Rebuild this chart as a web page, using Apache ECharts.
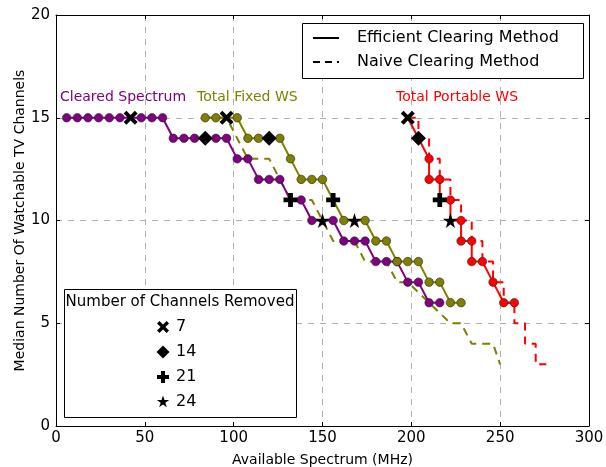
<!DOCTYPE html>
<html>
<head>
<meta charset="utf-8">
<script src="https://cdn.jsdelivr.net/npm/echarts@6.0.0/dist/echarts.min.js"></script>
<style>
  html, body { margin: 0; padding: 0; background: #fff; }
  #chart { width: 606px; height: 467px; }
</style>
</head>
<body>
<div id="chart"></div>
<script>
// Cleared Spectrum (efficient clearing)
var clearedX = [6, 12, 18, 24, 30, 36, 42, 48, 54, 60, 66, 72, 78, 84, 90, 96, 102, 108,
  114, 120, 126, 132, 138, 144, 150, 156, 162, 168, 174, 180, 186, 192, 198, 204, 210, 216];
var clearedY = [15, 15, 15, 15, 15, 15, 15, 15, 15, 15, 14, 14, 14, 14, 14, 14, 13, 13,
  12, 12, 12, 11, 11, 10, 10, 10, 9, 9, 9, 8, 8, 8, 7, 7, 6, 6];

// Total Fixed WS
var fixedX = [84, 90, 96, 102, 108, 114, 120, 126, 132, 138, 144, 150, 156, 162, 168, 174,
  180, 186, 192, 198, 204, 210, 216, 222, 228];
var fixedY = [15, 15, 15, 15, 14, 14, 14, 14, 13, 12, 12, 12, 11, 10, 10, 10,
  9, 9, 8, 8, 8, 7, 7, 6, 6];
var fixedNaiveX = [84, 90, 96, 108, 114, 120, 132, 138, 144, 150, 156, 162, 168, 174, 180, 186,
  192, 198, 210, 222, 228, 234, 240, 246, 250];
var fixedNaiveY = [15, 15, 15, 13, 13, 13, 11, 11, 11, 10, 9, 9, 9, 8, 8, 8,
  7, 7, 6, 5, 5, 4, 4, 4, 3];

// Total Portable WS
var portableX = [198, 204, 210, 210, 216, 216, 222, 222, 228, 228, 234, 234, 240, 246, 252, 258];
var portableY = [15, 14, 13, 12, 12, 11, 11, 10, 10, 9, 9, 8, 8, 7, 6, 6];
var portableNaiveX = [198, 204, 204, 210, 210, 216, 216, 222, 222, 228, 228, 234, 234, 240, 240,
  246, 246, 252, 252, 258, 258, 264, 264, 270, 270, 276];
var portableNaiveY = [15, 15, 14, 14, 13, 13, 12, 12, 11, 11, 10, 10, 9, 9, 8,
  8, 7, 7, 6, 6, 5, 5, 4, 4, 3, 3];

// channels removed markers [x, y]
var removed7 = [[42, 15], [96, 15], [198, 15]];
var removed14 = [[84, 14], [120, 14], [204, 14]];
var removed21 = [[132, 11], [156, 11], [216, 11]];
var removed24 = [[150, 10], [168, 10], [222, 10]];

var xTicks = [0, 50, 100, 150, 200, 250, 300];
var yTicks = [0, 5, 10, 15, 20];

var PURPLE = '#800080', OLIVE = '#808000', RED = '#ff0000';
var FONT = 'DejaVu Sans';

// marker outlines in a 10x10 box
var xPts = [[2, 0], [5, 3], [8, 0], [10, 2], [7, 5], [10, 8], [8, 10], [5, 7], [2, 10], [0, 8], [3, 5], [0, 2]];
var plusPts = [[3.3, 0], [6.7, 0], [6.7, 3.3], [10, 3.3], [10, 6.7], [6.7, 6.7], [6.7, 10], [3.3, 10],
  [3.3, 6.7], [0, 6.7], [0, 3.3], [3.3, 3.3]];
var diamondPts = [[5, 0], [10, 5], [5, 10], [0, 5]];
var starPts = [[5, 0], [6.12, 3.46], [9.76, 3.46], [6.81, 5.59], [7.94, 9.05], [5, 6.9], [2.06, 9.05],
  [3.19, 5.59], [0.24, 3.46], [3.88, 3.46]];

var allMarkers = removed7.concat(removed14, removed21, removed24);

function toPath(pts) {
  return 'path://M' + pts.map(function (p) { return p[0] + ',' + p[1]; }).join(' L') + ' Z';
}

function isMarked(x, y) {
  return allMarkers.some(function (m) { return m[0] === x && m[1] === y; });
}

function lineSeries(name, xs, ys, color, dashed) {
  return {
    name: name,
    type: 'line',
    data: xs.map(function (x, i) {
      var item = { value: [x, ys[i]] };
      if (isMarked(x, ys[i])) item.symbol = 'none';
      return item;
    }),
    symbol: dashed ? 'none' : 'circle',
    symbolSize: 8.5,
    z: dashed ? 2 : 3,
    lineStyle: { color: color, width: 2, type: dashed ? [8, 6] : 'solid' },
    itemStyle: { color: color, borderColor: '#222', borderWidth: 0.6 },
    emphasis: { disabled: true }
  };
}

function markerSeries(name, data, pts, size) {
  return {
    name: name,
    type: 'scatter',
    data: data,
    symbol: toPath(pts),
    symbolSize: size,
    z: 5,
    itemStyle: { color: '#000', opacity: 1 },
    emphasis: { disabled: true }
  };
}

var chart = echarts.init(document.getElementById('chart'));

var legendMarkers = [
  { pts: xPts, label: '7', size: 12 },
  { pts: diamondPts, label: '14', size: 13 },
  { pts: plusPts, label: '21', size: 12 },
  { pts: starPts, label: '24', size: 13 }
];
var graphics = [
  { type: 'text', x: 60, y: 97, style: { text: 'Cleared Spectrum', fill: PURPLE, font: '14px ' + FONT, verticalAlign: 'middle' } },
  { type: 'text', x: 197, y: 97, style: { text: 'Total Fixed WS', fill: OLIVE, font: '14px ' + FONT, verticalAlign: 'middle' } },
  { type: 'text', x: 396, y: 97, style: { text: 'Total Portable WS', fill: RED, font: '14px ' + FONT, verticalAlign: 'middle' } },
  // line style legend
  { type: 'rect', shape: { x: 302.5, y: 23.5, width: 281, height: 55 }, style: { fill: '#fff', stroke: '#000', lineWidth: 1 }, z: 10 },
  { type: 'line', shape: { x1: 313, y1: 38, x2: 339, y2: 38 }, style: { stroke: '#000', lineWidth: 2 }, z: 11 },
  { type: 'line', shape: { x1: 313, y1: 62, x2: 339, y2: 62 }, style: { stroke: '#000', lineWidth: 2, lineDash: [7, 5] }, z: 11 },
  { type: 'text', x: 357, y: 38, style: { text: 'Efficient Clearing Method', fill: '#000', font: '16px ' + FONT, verticalAlign: 'middle' }, z: 11 },
  { type: 'text', x: 357, y: 62, style: { text: 'Naive Clearing Method', fill: '#000', font: '16px ' + FONT, verticalAlign: 'middle' }, z: 11 },
  // marker legend
  { type: 'rect', shape: { x: 64.5, y: 289.5, width: 232, height: 128 }, style: { fill: '#fff', stroke: '#000', lineWidth: 1 }, z: 10 },
  { type: 'text', x: 180, y: 302, style: { text: 'Number of Channels Removed', fill: '#000', font: '15px ' + FONT, align: 'center', verticalAlign: 'middle' }, z: 11 }
];
legendMarkers.forEach(function (m, i) {
  var cy = 327 + i * 25;
  var s = m.size;
  graphics.push({
    type: 'polygon',
    shape: { points: m.pts.map(function (p) { return [163 - s / 2 + p[0] / 10 * s, cy - s / 2 + p[1] / 10 * s]; }) },
    style: { fill: '#000' },
    z: 11
  });
  graphics.push({
    type: 'text', x: 176, y: cy,
    style: { text: m.label, fill: '#000', font: '16px ' + FONT, verticalAlign: 'middle' },
    z: 11
  });
});

chart.setOption({
  animation: false,
  backgroundColor: '#fff',
  textStyle: { fontFamily: FONT },
  grid: { left: 56, right: 17, top: 15, bottom: 41, show: false, outerBoundsMode: 'none', containLabel: false },
  xAxis: [{
    type: 'value', min: 0, max: 300, interval: 50,
    name: 'Available Spectrum (MHz)', nameLocation: 'middle', nameGap: 27, nameMoveOverlap: false,
    nameTextStyle: { fontSize: 14, color: '#000', fontFamily: FONT },
    axisLine: { show: true, onZero: false, lineStyle: { color: '#000', width: 1 } },
    axisTick: { show: true, inside: true, length: 4, lineStyle: { color: '#000' } },
    axisLabel: { fontSize: 15, color: '#000', margin: 5, fontFamily: FONT,
      formatter: function (v) { return xTicks.indexOf(v) >= 0 ? String(v) : ''; } },
    splitLine: { show: true, lineStyle: { color: '#b0b0b0', type: [6, 6], width: 1 } }
  }, {
    type: 'value', position: 'top', min: 0, max: 300, interval: 50,
    axisLine: { show: true, onZero: false, lineStyle: { color: '#000', width: 1 } },
    axisTick: { show: true, inside: true, length: 4, lineStyle: { color: '#000' } },
    axisLabel: { show: false }, splitLine: { show: false }
  }],
  yAxis: [{
    type: 'value', min: 0, max: 20, interval: 5,
    name: 'Median Number Of Watchable TV Channels', nameLocation: 'middle', nameGap: 29, nameMoveOverlap: false,
    nameTextStyle: { fontSize: 14, color: '#000', fontFamily: FONT },
    axisLine: { show: true, onZero: false, lineStyle: { color: '#000', width: 1 } },
    axisTick: { show: true, inside: true, length: 4, lineStyle: { color: '#000' } },
    axisLabel: { fontSize: 15, color: '#000', margin: 6, fontFamily: FONT,
      formatter: function (v) { return yTicks.indexOf(v) >= 0 ? String(v) : ''; } },
    splitLine: { show: true, lineStyle: { color: '#b0b0b0', type: [6, 6], width: 1 } }
  }, {
    type: 'value', position: 'right', min: 0, max: 20, interval: 5,
    axisLine: { show: true, onZero: false, lineStyle: { color: '#000', width: 1 } },
    axisTick: { show: true, inside: true, length: 4, lineStyle: { color: '#000' } },
    axisLabel: { show: false }, splitLine: { show: false }
  }],
  series: [
    lineSeries('Total Fixed WS naive', fixedNaiveX, fixedNaiveY, OLIVE, true),
    lineSeries('Total Portable WS naive', portableNaiveX, portableNaiveY, RED, true),
    lineSeries('Cleared Spectrum', clearedX, clearedY, PURPLE, false),
    lineSeries('Total Fixed WS', fixedX, fixedY, OLIVE, false),
    lineSeries('Total Portable WS', portableX, portableY, RED, false),
    markerSeries('7', removed7, xPts, 14),
    markerSeries('14', removed14, diamondPts, 15),
    markerSeries('21', removed21, plusPts, 14),
    markerSeries('24', removed24, starPts, 15)
  ],
  graphic: graphics
});
</script>
</body>
</html>
